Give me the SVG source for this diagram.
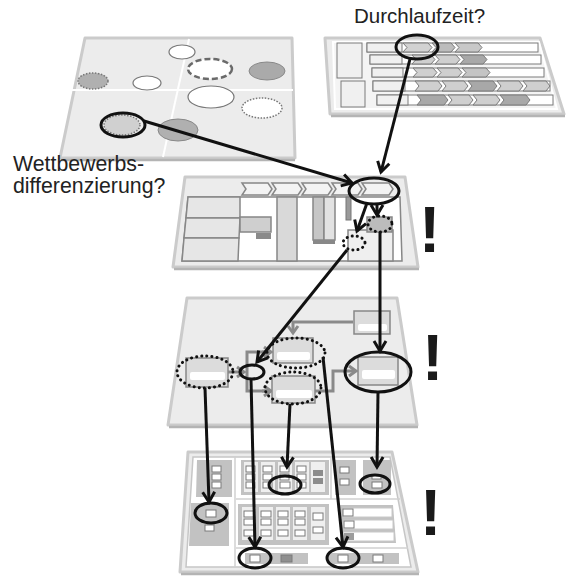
<svg xmlns="http://www.w3.org/2000/svg" width="569" height="580" viewBox="0 0 569 580">
  <defs>
    <style>
      .plane { fill: #ececec; stroke: #cbcbcb; stroke-width: 3; stroke-linejoin: round; }
      .edge { fill: none; stroke: #b4b4b4; stroke-width: 2.5; }
      .box { stroke: #878787; stroke-width: 1.5; }
      .thin { stroke: #7a7a7a; stroke-width: 1; }
      .sq { fill: #ffffff; stroke: #7a7a7a; stroke-width: 1; }
      .wbar { fill: #ffffff; }
      .ring { fill: none; stroke: #111111; stroke-width: 3; }
      .dots { fill: none; stroke: #111111; stroke-width: 3; stroke-dasharray: 0.1 5; stroke-linecap: round; }
      .link { fill: none; stroke: #111111; stroke-width: 3; }
      .glink { fill: none; stroke: #8a8a8a; stroke-width: 3; }
      .label { font-family: "Liberation Sans", Arial, sans-serif; font-size: 20.5px; fill: #222222; }
      .side { font-size: 21.3px; }
      .bang { font-family: "Liberation Sans", Arial, sans-serif; font-size: 64px; font-weight: bold; fill: #1a1a1a; }
    </style>
    <marker id="ah" markerUnits="userSpaceOnUse" markerWidth="16" markerHeight="16" viewBox="0 0 16 16" refX="13" refY="8" orient="auto">
      <path d="M3,2 L13,8 L3,14" fill="none" stroke="#111111" stroke-width="3"/>
    </marker>
    <marker id="gah" markerUnits="userSpaceOnUse" markerWidth="14" markerHeight="14" viewBox="0 0 14 14" refX="11" refY="7" orient="auto">
      <path d="M4,2 L11,7 L4,12" fill="none" stroke="#8a8a8a" stroke-width="3"/>
    </marker>
  </defs>

  <rect width="569" height="580" fill="#ffffff"/>

  <!-- Portfolio map (top left) -->
  <g id="portfolio">
    <polygon class="plane" points="85,38 292,38 295,158 60,158"/>
    <line class="edge" x1="61" y1="160" x2="295" y2="160"/>
    <line x1="72" y1="90" x2="293" y2="90" stroke="#ffffff" stroke-width="2"/>
    <line x1="189" y1="39" x2="163" y2="157" stroke="#ffffff" stroke-width="2"/>
    <ellipse cx="182" cy="52" rx="13" ry="7" fill="#ffffff" stroke="#777777" stroke-width="1.2"/>
    <ellipse cx="210" cy="69" rx="22" ry="10" fill="#ffffff" stroke="#6a6a6a" stroke-width="2.5" stroke-dasharray="6 3"/>
    <ellipse cx="267" cy="71" rx="18" ry="9" fill="#aaaaaa" stroke="#888888" stroke-width="1"/>
    <ellipse cx="93" cy="81" rx="15" ry="8" fill="#b0b0b0" stroke="#777777" stroke-width="1.5" stroke-dasharray="1.5 1.5"/>
    <ellipse cx="147" cy="83" rx="14" ry="7" fill="#ffffff" stroke="#777777" stroke-width="1.2"/>
    <ellipse cx="211" cy="97" rx="23" ry="11" fill="#ffffff" stroke="#777777" stroke-width="1.2"/>
    <ellipse cx="262" cy="108" rx="20" ry="10" fill="#ffffff" stroke="#777777" stroke-width="1.5" stroke-dasharray="1.5 1.5"/>
    <ellipse cx="178" cy="130" rx="20" ry="11" fill="#b0b0b0" stroke="#888888" stroke-width="1"/>
    <ellipse cx="122" cy="125" rx="18" ry="10" fill="#d0d0d0" stroke="#777777" stroke-width="1.5" stroke-dasharray="1.5 1.5"/>
    <ellipse class="ring" cx="123" cy="125" rx="22" ry="12"/>
  </g>

  <!-- Gantt schedule (top right) -->
  <g id="schedule">
    <polygon class="plane" points="325,38 540,38 564,114 330,114"/>
    <line class="edge" x1="331" y1="116" x2="565" y2="116"/>
    <polygon points="333,42 539,42 557,109 335,109" fill="#f4f4f4" stroke="#ffffff" stroke-width="2"/>
    <!-- row stripes -->
    <g class="thin" fill="#ffffff">
      <rect x="367" y="43" width="171" height="9"/>
      <rect x="370" y="55" width="171" height="9"/>
      <rect x="372" y="68" width="172" height="9"/>
      <rect x="373" y="81" width="177" height="10"/>
      <rect x="377" y="95" width="176" height="10"/>
    </g>
    <g class="thin" fill="#f0f0f0">
      <rect x="337" y="43" width="25" height="35"/>
      <rect x="341" y="81" width="24" height="26"/>
      <rect x="367" y="43" width="35" height="9"/>
      <rect x="370" y="55" width="32" height="9"/>
      <rect x="372" y="68" width="31" height="9"/>
      <rect x="373" y="81" width="32" height="10"/>
      <rect x="377" y="95" width="31" height="10"/>
    </g>
    <!-- chevrons -->
    <g class="thin">
      <polygon fill="#d2d2d2" points="403,43 428,43 432,47.5 428,52 403,52 407,47.5"/>
      <polygon fill="#bcbcbc" points="432,43 451,43 455,47.5 451,52 432,52 436,47.5"/>
      <polygon fill="#c8c8c8" points="455,43 478,43 482,47.5 478,52 455,52 459,47.5"/>

      <polygon fill="#cfcfcf" points="412,55 431,55 435,59.5 431,64 412,64 416,59.5"/>
      <polygon fill="#cfcfcf" points="435,55 456,55 460,59.5 456,64 435,64 439,59.5"/>
      <polygon fill="#a8a8a8" points="460,55 483,55 487,59.5 483,64 460,64 464,59.5"/>

      <polygon fill="#cfcfcf" points="413,68 433,68 437,72.5 433,77 413,77 417,72.5"/>
      <polygon fill="#cfcfcf" points="437,68 458,68 462,72.5 458,77 437,77 441,72.5"/>
      <polygon fill="#c4c4c4" points="462,68 486,68 490,72.5 486,77 462,77 466,72.5"/>

      <polygon fill="#cfcfcf" points="415,81 438,81 442,86 438,91 415,91 419,86"/>
      <polygon fill="#cfcfcf" points="442,81 464,81 468,86 464,91 442,91 446,86"/>
      <polygon fill="#a8a8a8" points="468,81 493,81 497,86 493,91 468,91 472,86"/>
      <polygon fill="#cfcfcf" points="497,81 519,81 523,86 519,91 497,91 501,86"/>
      <polygon fill="#cfcfcf" points="523,81 546,81 550,86 546,91 523,91 527,86"/>

      <polygon fill="#a8a8a8" points="417,95 444,95 448,100 444,105 417,105 421,100"/>
      <polygon fill="#cfcfcf" points="448,95 469,95 473,100 469,105 448,105 452,100"/>
      <polygon fill="#cfcfcf" points="473,95 496,95 500,100 496,105 473,105 477,100"/>
      <polygon fill="#a8a8a8" points="500,95 526,95 530,100 526,105 500,105 504,100"/>
    </g>
    <ellipse class="ring" cx="417" cy="47" rx="21" ry="12"/>
  </g>

  <!-- Value chain / layout (middle) -->
  <g id="layout">
    <polygon class="plane" points="185,177 405,177 418,267 173,267"/>
    <line class="edge" x1="174" y1="269" x2="419" y2="269"/>
    <polygon points="188,197 400,197 402,261 182,261" fill="#ffffff" stroke="#878787" stroke-width="1.5"/>
    <g class="box" fill="#f3f3f3">
      <polygon points="242,183 268,183 272,189 268,195 242,195 246,189"/>
      <polygon points="272,183 298,183 302,189 298,195 272,195 276,189"/>
      <polygon points="302,183 328,183 332,189 328,195 302,195 306,189"/>
      <polygon points="332,183 358,183 362,189 358,195 332,195 336,189"/>
      <polygon points="362,183 389,183 393,189 389,195 362,195 366,189"/>
    </g>
    <g class="box" fill="#e6e6e6">
      <polygon points="188,197 240,197 240,218 186,218"/>
      <polygon points="186,218 240,218 239,238 184,238"/>
      <polygon points="184,238 239,238 238,261 182,261"/>
    </g>
    <rect class="box" x="240" y="217" width="31" height="15" fill="#cfcfcf"/>
    <rect x="256" y="233" width="15" height="6" fill="#8a8a8a"/>
    <rect class="box" x="277" y="197" width="20" height="64" fill="#d9d9d9"/>
    <rect class="box" x="313" y="197" width="11" height="43" fill="#c6c6c6"/>
    <rect class="box" x="324" y="197" width="11" height="43" fill="#e2e2e2"/>
    <rect x="313" y="240" width="22" height="4" fill="#888888"/>
    <rect x="346" y="197" width="5" height="23" fill="#9a9a9a" stroke="#777777" stroke-width="1"/>
    <rect class="box" x="348" y="230" width="45" height="31" fill="#efefef"/>
    <rect class="box" x="367" y="217" width="25" height="15" fill="#bcbcbc"/>
    <ellipse class="ring" cx="374" cy="191" rx="25" ry="13"/>
    <ellipse class="dots" cx="354" cy="243" rx="11" ry="7"/>
    <ellipse class="dots" cx="380" cy="224" rx="12" ry="8"/>
  </g>

  <!-- Process model (lower middle) -->
  <g id="process">
    <polygon class="plane" points="187,298 397,298 417,425 168,425"/>
    <line class="edge" x1="169" y1="427" x2="418" y2="427"/>
    <!-- gray flow lines -->
    <polyline class="glink" points="353,322 293,322 293,333" marker-end="url(#gah)"/>
    <polyline class="glink" points="228,372 244,372" marker-end="url(#gah)"/>
    <polyline class="glink" points="270,352 247,352 247,391 270,391" fill="none"/>
    <line class="glink" x1="262" y1="352" x2="271" y2="352" marker-end="url(#gah)"/>
    <line class="glink" x1="262" y1="391" x2="271" y2="391" marker-end="url(#gah)"/>
    <polyline class="glink" points="315,391 333,391 333,371 356,371" marker-end="url(#gah)"/>
    <!-- activities -->
    <g class="box" fill="#dcdcdc">
      <rect x="354" y="311" width="36" height="23"/>
      <rect x="273" y="338" width="40" height="25"/>
      <rect x="272" y="376" width="43" height="27"/>
      <rect x="186" y="358" width="42" height="29"/>
      <rect x="358" y="357" width="40" height="28"/>
    </g>
    <g class="wbar">
      <rect x="358" y="324" width="29" height="7" rx="2"/>
      <rect x="277" y="352" width="33" height="8" rx="2"/>
      <rect x="276" y="390" width="36" height="8" rx="2"/>
      <rect x="190" y="372" width="35" height="8" rx="2"/>
      <rect x="362" y="370" width="33" height="9" rx="2"/>
    </g>
    <ellipse class="dots" cx="296" cy="353" rx="29" ry="15"/>
    <ellipse class="dots" cx="293" cy="388" rx="28" ry="16"/>
    <ellipse class="dots" cx="205" cy="372" rx="28" ry="16"/>
    <ellipse class="ring" cx="252" cy="372" rx="12" ry="7"/>
    <ellipse class="ring" cx="378" cy="372" rx="33" ry="20"/>
  </g>

  <!-- Workstation screens (bottom) -->
  <g id="screens">
    <polygon class="plane" points="188,452 392,452 418,572 180,572"/>
    <line class="edge" x1="181" y1="574" x2="419" y2="574"/>
    <polygon points="193,457 390,457 411,567 186,567" fill="#ffffff" stroke="#c6c6c6" stroke-width="1.5"/>
    <g stroke="#d0d0d0" stroke-width="1.5">
      <line x1="235" y1="457" x2="235" y2="567"/>
      <line x1="236" y1="499" x2="400" y2="499"/>
      <line x1="236" y1="548" x2="408" y2="548"/>
      <line x1="331" y1="457" x2="331" y2="499"/>
    </g>
    <g fill="#c2c2c2">
      <polygon points="197,460 232,460 232,497 196,497"/>
      <polygon points="191,503 229,503 229,546 189,546"/>
      <rect x="241" y="460" width="88" height="35"/>
      <rect x="335" y="460" width="21" height="35"/>
      <rect x="363" y="460" width="28" height="35"/>
      <rect x="238" y="504" width="91" height="41"/>
      <polygon points="340,505 393,505 396,543 340,543"/>
      <rect x="245" y="553" width="63" height="11"/>
      <rect x="328" y="553" width="71" height="11"/>
    </g>
    <!-- left column -->
    <rect class="sq" x="212" y="466" width="9" height="6"/>
    <rect class="sq" x="212" y="474" width="9" height="6"/>
    <rect class="sq" x="212" y="482" width="9" height="6"/>
    <rect class="sq" x="206" y="510" width="10" height="7"/>
    <rect class="sq" x="205" y="525" width="9" height="6"/>
    <!-- upper table -->
    <g fill="#efefef">
      <rect x="244" y="462" width="14" height="30"/>
      <rect x="261" y="462" width="14" height="30"/>
      <rect x="278" y="462" width="14" height="30"/>
      <rect x="295" y="462" width="14" height="30"/>
      <rect x="311" y="462" width="14" height="30"/>
    </g>
    <rect class="sq" x="246" y="466" width="9" height="6" fill="#8c8c8c"/>
    <rect class="sq" x="246" y="474" width="9" height="6" fill="#9c9c9c"/>
    <rect class="sq" x="246" y="482" width="9" height="6"/>
    <rect class="sq" x="263" y="466" width="9" height="6" fill="#8c8c8c"/>
    <rect class="sq" x="263" y="474" width="9" height="6"/>
    <rect class="sq" x="263" y="482" width="9" height="6"/>
    <rect class="sq" x="280" y="466" width="9" height="6"/>
    <rect class="sq" x="280" y="474" width="9" height="6"/>
    <rect class="sq" x="280" y="482" width="10" height="6"/>
    <rect class="sq" x="297" y="466" width="9" height="6" fill="#d8d8d8"/>
    <rect class="sq" x="297" y="474" width="9" height="6"/>
    <rect class="sq" x="297" y="482" width="9" height="6"/>
    <rect x="313" y="470" width="10" height="6" fill="#8c8c8c"/>
    <rect x="313" y="478" width="10" height="6" fill="#8c8c8c"/>
    <rect class="sq" x="340" y="467" width="9" height="6"/>
    <rect class="sq" x="340" y="479" width="9" height="6"/>
    <rect class="sq" x="372" y="475" width="9" height="4" fill="#dddddd"/>
    <rect class="sq" x="372" y="482" width="10" height="6"/>
    <!-- lower table -->
    <g fill="#efefef">
      <rect x="242" y="507" width="14" height="33"/>
      <rect x="259" y="507" width="14" height="33"/>
      <rect x="276" y="507" width="14" height="33"/>
      <rect x="293" y="507" width="14" height="33"/>
      <rect x="311" y="507" width="14" height="33"/>
    </g>
    <rect class="sq" x="244" y="511" width="10" height="6" fill="#d0d0d0"/>
    <rect class="sq" x="244" y="519" width="10" height="6" fill="#d0d0d0"/>
    <rect class="sq" x="244" y="530" width="10" height="6"/>
    <rect class="sq" x="261" y="511" width="10" height="6" fill="#8f8f8f"/>
    <rect class="sq" x="261" y="519" width="10" height="6" fill="#8f8f8f"/>
    <rect class="sq" x="261" y="530" width="10" height="6"/>
    <rect class="sq" x="278" y="511" width="10" height="6" fill="#9c9c9c"/>
    <rect class="sq" x="278" y="519" width="10" height="6" fill="#d0d0d0"/>
    <rect class="sq" x="278" y="530" width="10" height="6"/>
    <rect class="sq" x="295" y="511" width="10" height="6"/>
    <rect class="sq" x="295" y="519" width="10" height="6"/>
    <rect class="sq" x="295" y="530" width="10" height="6"/>
    <rect class="sq" x="313" y="513" width="10" height="7"/>
    <rect class="sq" x="313" y="527" width="10" height="6"/>
    <!-- list rows -->
    <g fill="#ffffff" stroke="#c8c8c8" stroke-width="1">
      <rect x="343" y="508" width="49" height="9"/>
      <rect x="343" y="520" width="50" height="9"/>
      <rect x="343" y="532" width="51" height="9"/>
    </g>
    <rect class="sq" x="343" y="509" width="10" height="7"/>
    <rect class="sq" x="344" y="521" width="10" height="7"/>
    <rect x="344" y="533" width="10" height="7" fill="#9c9c9c"/>
    <!-- footer bars -->
    <rect class="sq" x="250" y="555" width="10" height="7"/>
    <rect x="281" y="555" width="11" height="7" fill="#8f8f8f" stroke="#7a7a7a" stroke-width="1"/>
    <rect class="sq" x="338" y="555" width="10" height="7"/>
    <rect class="sq" x="373" y="555" width="10" height="7"/>
    <!-- highlighted elements -->
    <ellipse class="ring" cx="211" cy="513" rx="16" ry="10"/>
    <ellipse class="ring" cx="285" cy="485" rx="16" ry="9"/>
    <ellipse class="ring" cx="375" cy="484" rx="15" ry="9"/>
    <ellipse class="ring" cx="255" cy="558" rx="16" ry="10"/>
    <ellipse class="ring" cx="343" cy="558" rx="16" ry="10"/>
  </g>

  <!-- connectors between the levels -->
  <g id="connectors">
    <line class="link" x1="144" y1="121" x2="352" y2="183" marker-end="url(#ah)"/>
    <line class="link" x1="410" y1="59" x2="381" y2="172" marker-end="url(#ah)"/>
    <line class="link" x1="367" y1="203" x2="357" y2="231" marker-end="url(#ah)"/>
    <line class="link" x1="377" y1="204" x2="377" y2="215" marker-end="url(#ah)"/>
    <line class="link" x1="347" y1="250" x2="257" y2="362" marker-end="url(#ah)"/>
    <line class="link" x1="380" y1="232" x2="380" y2="351" marker-end="url(#ah)"/>
    <line class="link" x1="205" y1="388" x2="209" y2="502" marker-end="url(#ah)"/>
    <line class="link" x1="251" y1="379" x2="255" y2="547" marker-end="url(#ah)"/>
    <line class="link" x1="290" y1="404" x2="287" y2="467" marker-end="url(#ah)"/>
    <line class="link" x1="323" y1="357" x2="343" y2="547" marker-end="url(#ah)"/>
    <line class="link" x1="378" y1="392" x2="377" y2="467" marker-end="url(#ah)"/>
  </g>

  <!-- annotations -->
  <g id="annotations">
    <text class="label" x="354" y="23">Durchlaufzeit?</text>
    <text class="label side" x="13" y="171">Wettbewerbs-</text>
    <text class="label side" x="13" y="193">differenzierung?</text>
    <text class="bang" x="419" y="252">!</text>
    <text class="bang" x="422" y="380">!</text>
    <text class="bang" x="420" y="535">!</text>
  </g>
</svg>
